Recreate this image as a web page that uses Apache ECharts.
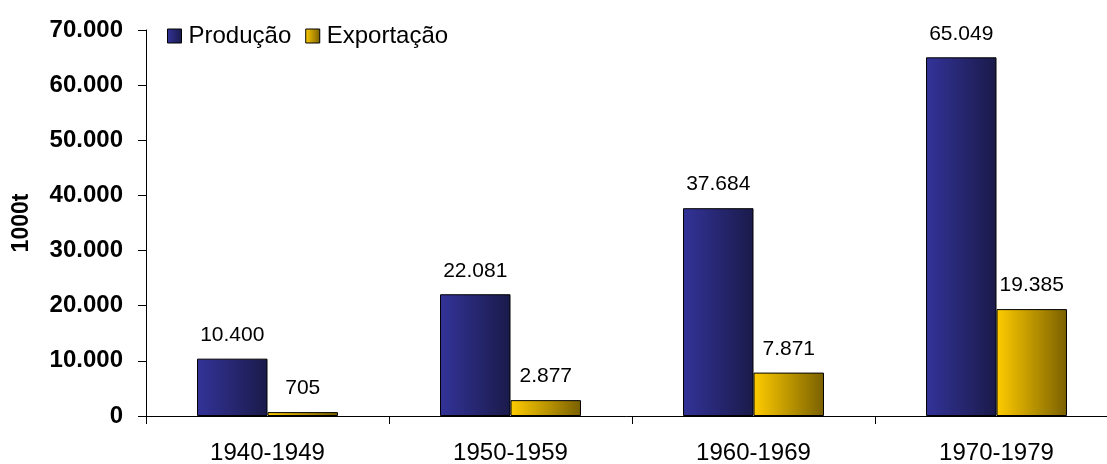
<!DOCTYPE html>
<html>
<head>
<meta charset="utf-8">
<script src="https://cdn.jsdelivr.net/npm/echarts@6/dist/echarts.min.js"></script>
<style>
  html, body { margin: 0; padding: 0; background: #fff; }
  #chart { width: 1107px; height: 464px; }
</style>
</head>
<body>
<div id="chart"></div>
<script>
  var categories = ['1940-1949', '1950-1959', '1960-1969', '1970-1979']
  var producao = [10400, 22081, 37684, 65049]
  var exportacao = [705, 2877, 7871, 19385]

  // 10400 -> "10.400"
  function fmt (v) {
    return String(v).replace(/\B(?=(\d{3})+(?!\d))/g, '.')
  }

  function grad (c1, c2) {
    return new echarts.graphic.LinearGradient(0, 0, 1, 0, [
      { offset: 0, color: c1 },
      { offset: 1, color: c2 }
    ])
  }

  var labelStyle = {
    show: true,
    position: 'top',
    distance: 13,
    fontSize: 21,
    color: '#000',
    formatter: function (p) { return fmt(p.value) }
  }

  var chart = echarts.init(document.getElementById('chart'))
  chart.setOption({
    animation: false,
    textStyle: { fontFamily: 'Liberation Sans, Arial, sans-serif' },
    legend: {
      left: 162,
      top: 19,
      icon: 'rect',
      itemWidth: 14,
      itemHeight: 14,
      itemGap: 14,
      itemStyle: { borderColor: '#000', borderWidth: 1 },
      textStyle: { fontSize: 24, color: '#000', padding: [0, 0, 0, 2] },
      data: ['Produção', 'Exportação']
    },
    grid: {
      left: 146,
      top: 30,
      width: 972,
      height: 386,
      containLabel: false,
      outerBoundsMode: 'none'
    },
    xAxis: {
      type: 'category',
      data: categories,
      axisLine: { lineStyle: { color: '#000', width: 1 } },
      axisTick: { show: true, length: 8, lineStyle: { color: '#000' } },
      axisLabel: { fontSize: 24, color: '#000', margin: 25 }
    },
    yAxis: {
      type: 'value',
      min: 0,
      max: 70000,
      interval: 10000,
      name: '1000t',
      nameLocation: 'middle',
      nameGap: 113,
      nameRotate: 90,
      nameTextStyle: { fontSize: 23, fontWeight: 'bold', color: '#000' },
      axisLine: { show: true, lineStyle: { color: '#000' } },
      axisTick: { show: true, length: 8, lineStyle: { color: '#000' } },
      splitLine: { show: false },
      axisLabel: {
        fontSize: 24,
        fontWeight: 'bold',
        color: '#000',
        margin: 23,
        formatter: fmt
      }
    },
    series: [
      {
        name: 'Produção',
        type: 'bar',
        data: producao,
        barGap: 0,
        barCategoryGap: '42%',
        itemStyle: {
          color: grad('#333399', '#1a1a4a'),
          borderColor: '#000',
          borderWidth: 1
        },
        label: labelStyle
      },
      {
        name: 'Exportação',
        type: 'bar',
        data: exportacao,
        itemStyle: {
          color: grad('#ffcc00', '#7a6000'),
          borderColor: '#000',
          borderWidth: 1
        },
        label: labelStyle
      }
    ]
  })
</script>
</body>
</html>
